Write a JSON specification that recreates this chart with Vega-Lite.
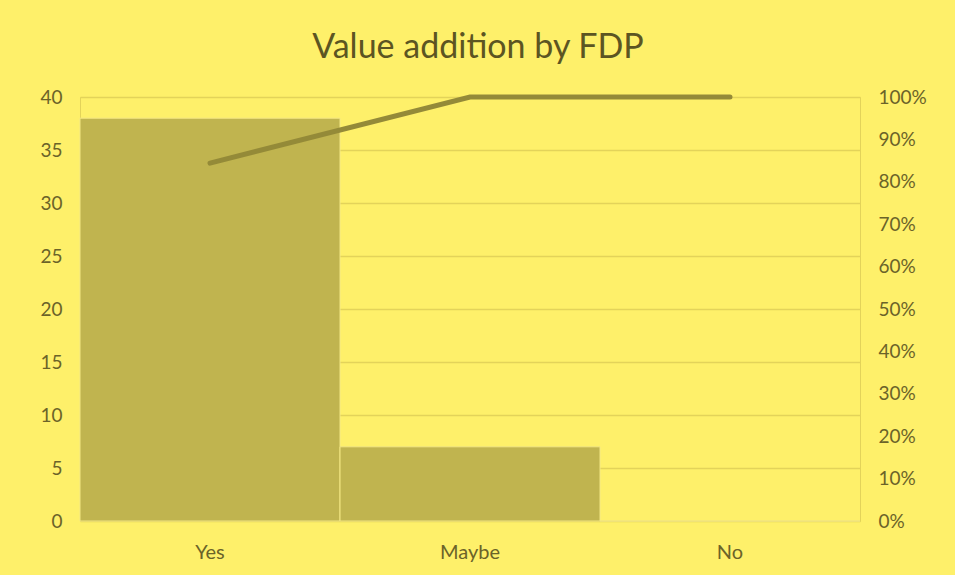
{
  "$schema": "https://vega.github.io/schema/vega-lite/v6.json",
  "autosize": "none",
  "width": 780,
  "height": 424,
  "padding": {"left": 80, "top": 97, "right": 95, "bottom": 54},
  "background": "#fef06a",
  "title": {
    "text": "Value addition by FDP",
    "font": "Lato",
    "fontSize": 34,
    "fontWeight": "normal",
    "color": "#5c5522",
    "anchor": "middle",
    "dx": 8,
    "offset": 22
  },
  "config": {
    "view": {"stroke": "#e3d35a", "strokeWidth": 1},
    "axis": {
      "labelFont": "Lato",
      "labelFontSize": 19,
      "labelColor": "#6b6329",
      "domain": false,
      "ticks": false
    }
  },
  "data": {
    "values": [
      {"cat": "Yes", "count": 38, "cum": 0.844},
      {"cat": "Maybe", "count": 7, "cum": 1.0},
      {"cat": "No", "count": 0, "cum": 1.0}
    ]
  },
  "encoding": {
    "x": {
      "field": "cat",
      "type": "nominal",
      "sort": null,
      "scale": {"paddingInner": 0, "paddingOuter": 0},
      "axis": {"title": null, "labelAngle": 0, "labelPadding": 21, "labelFontSize": 20, "grid": false}
    }
  },
  "layer": [
    {
      "mark": {"type": "bar", "color": "#c0b44f", "stroke": "#f3e784", "strokeWidth": 1},
      "encoding": {
        "y": {
          "field": "count",
          "type": "quantitative",
          "scale": {"domain": [0, 40]},
          "axis": {
            "title": null,
            "values": [0, 5, 10, 15, 20, 25, 30, 35, 40],
            "grid": true,
            "gridColor": "#e3d35a",
            "gridWidth": 1.5,
            "labelPadding": 18
          }
        }
      }
    },
    {
      "mark": {"type": "line", "color": "#948a38", "strokeWidth": 5, "strokeCap": "round"},
      "encoding": {
        "y": {
          "field": "cum",
          "type": "quantitative",
          "scale": {"domain": [0, 1]},
          "axis": {
            "title": null,
            "orient": "right",
            "values": [0, 0.1, 0.2, 0.3, 0.4, 0.5, 0.6, 0.7, 0.8, 0.9, 1.0],
            "format": ".0%",
            "grid": false,
            "labelPadding": 18
          }
        }
      }
    }
  ],
  "resolve": {"scale": {"y": "independent"}}
}
